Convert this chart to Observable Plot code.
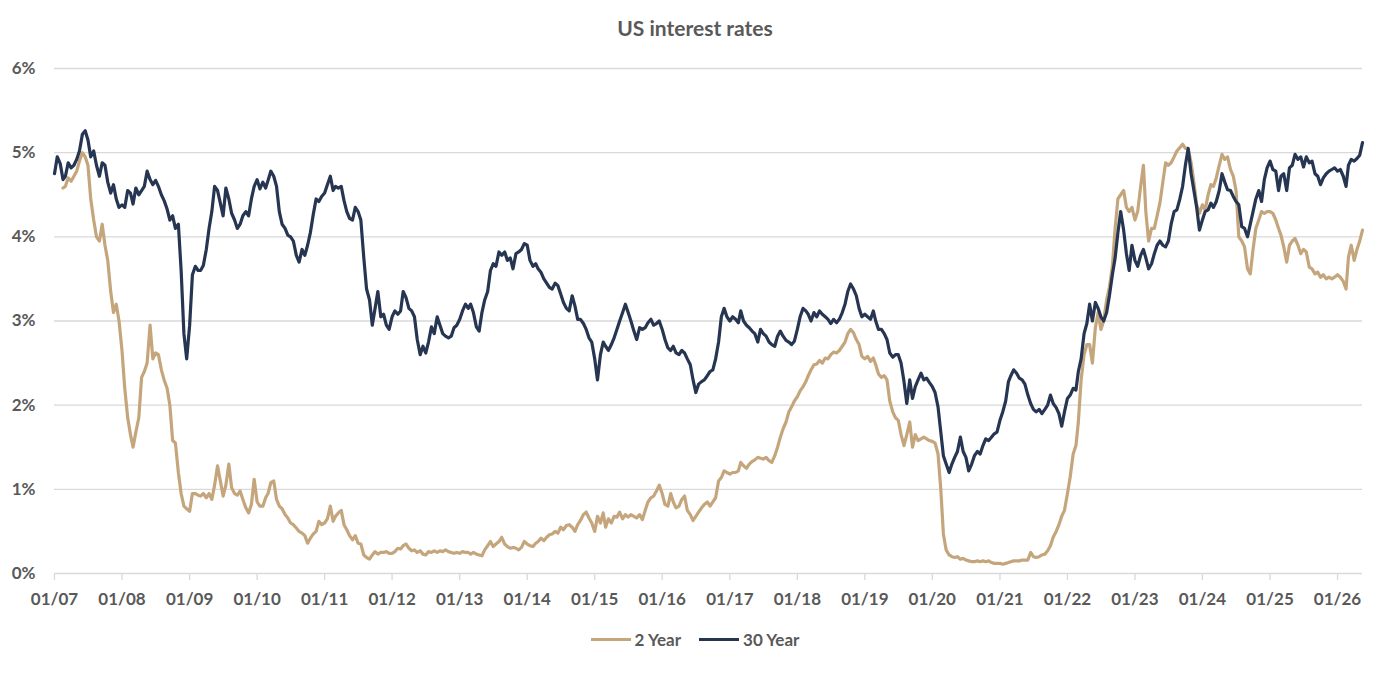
<!DOCTYPE html>
<html>
<head>
<meta charset="utf-8">
<script src="https://cdn.jsdelivr.net/npm/d3@7"></script>
<script src="https://cdn.jsdelivr.net/npm/@observablehq/plot@0.6"></script>
<style>
  html, body { margin: 0; padding: 0; background: #fff; }
  body { width: 1390px; font-family: Lato, "Open Sans", sans-serif; color: #595959; }
  #title { height: 50px; box-sizing: border-box; padding-top: 15px; line-height: 25px;
           text-align: center; font-weight: 700; font-size: 21px; }
  #chart svg { display: block; }
  #legend { height: 38px; display: flex; justify-content: center; align-items: center;
            font-weight: 700; font-size: 17px; }
  .item { display: flex; align-items: center; margin: 0 9px; }
  .swatch { width: 40px; height: 3px; margin-right: 4px; }
</style>
</head>
<body>
<div id="title">US interest rates</div>
<div id="chart"></div>
<div id="legend"></div>
<script>
// Half-monthly yields (1st and 16th of each month), Jan 2007 – mid-May 2026, in percent.
const seriesNames = ["2 Year", "30 Year"];
const seriesColors = ["#C5A67C", "#263551"];

const twoYear = [
  /* 2007 */ null, null, null, 4.58, 4.6, 4.7, 4.66, 4.72, 4.78, 4.9, 5.0, 4.95, 4.85, 4.45, 4.2, 4.0, 3.95, 4.15, 3.9, 3.72, 3.35, 3.1, 3.2, 3.0,
  /* 2008 */ 2.65, 2.2, 1.85, 1.65, 1.5, 1.68, 1.85, 2.33, 2.4, 2.5, 2.95, 2.55, 2.62, 2.6, 2.42, 2.3, 2.2, 2.0, 1.58, 1.55, 1.2, 0.95, 0.8, 0.77,
  /* 2009 */ 0.74, 0.95, 0.95, 0.93, 0.92, 0.95, 0.9, 0.95, 0.88, 1.05, 1.28, 1.1, 0.92, 1.05, 1.3, 1.02, 0.95, 0.93, 0.98, 0.88, 0.78, 0.72, 0.82, 1.12,
  /* 2010 */ 0.85, 0.8, 0.8, 0.9, 0.95, 1.08, 1.1, 0.88, 0.8, 0.77, 0.7, 0.66, 0.6, 0.58, 0.54, 0.5, 0.48, 0.45, 0.36, 0.42, 0.47, 0.5, 0.62, 0.58,
  /* 2011 */ 0.6, 0.65, 0.8, 0.62, 0.68, 0.72, 0.75, 0.58, 0.52, 0.45, 0.4, 0.45, 0.36, 0.35, 0.22, 0.19, 0.17, 0.22, 0.26, 0.23, 0.25, 0.25, 0.26, 0.24,
  /* 2012 */ 0.24, 0.26, 0.3, 0.29, 0.33, 0.35, 0.3, 0.27, 0.28, 0.25, 0.27, 0.23, 0.22, 0.26, 0.25, 0.27, 0.25, 0.27, 0.26, 0.28, 0.26, 0.25, 0.24, 0.25,
  /* 2013 */ 0.24, 0.26, 0.25, 0.25, 0.23, 0.25, 0.23, 0.22, 0.21, 0.28, 0.33, 0.38, 0.32, 0.35, 0.38, 0.43, 0.35, 0.32, 0.3, 0.31, 0.3, 0.28, 0.31, 0.38,
  /* 2014 */ 0.35, 0.33, 0.32, 0.36, 0.38, 0.42, 0.39, 0.43, 0.46, 0.47, 0.5, 0.48, 0.55, 0.52, 0.57, 0.58, 0.55, 0.5, 0.58, 0.63, 0.7, 0.73, 0.66, 0.6,
  /* 2015 */ 0.5, 0.68, 0.6, 0.72, 0.55, 0.65, 0.6, 0.68, 0.67, 0.73, 0.65, 0.7, 0.67, 0.7, 0.68, 0.66, 0.7, 0.64, 0.75, 0.85, 0.9, 0.92, 0.98, 1.05,
  /* 2016 */ 0.95, 0.82, 0.8, 0.95, 0.85, 0.78, 0.8, 0.88, 0.92, 0.75, 0.7, 0.63, 0.68, 0.73, 0.78, 0.82, 0.85, 0.8, 0.85, 0.9, 1.1, 1.14, 1.22, 1.2,
  /* 2017 */ 1.18, 1.2, 1.2, 1.22, 1.32, 1.28, 1.25, 1.3, 1.33, 1.35, 1.38, 1.37, 1.36, 1.38, 1.34, 1.32, 1.4, 1.5, 1.62, 1.72, 1.8, 1.92, 1.98, 2.05,
  /* 2018 */ 2.1, 2.17, 2.22, 2.28, 2.35, 2.42, 2.48, 2.49, 2.53, 2.5, 2.56, 2.55, 2.6, 2.63, 2.62, 2.65, 2.7, 2.75, 2.85, 2.9, 2.86, 2.78, 2.72, 2.58,
  /* 2019 */ 2.55, 2.58, 2.52, 2.56, 2.48, 2.37, 2.33, 2.35, 2.3, 2.05, 1.92, 1.85, 1.82, 1.65, 1.52, 1.65, 1.8, 1.5, 1.65, 1.58, 1.6, 1.62, 1.6, 1.58,
  /* 2020 */ 1.57, 1.55, 1.42, 1.0, 0.47, 0.28, 0.22, 0.2, 0.19, 0.2, 0.17, 0.18, 0.16, 0.15, 0.14, 0.14, 0.15, 0.14, 0.15, 0.14, 0.15, 0.13, 0.12, 0.12,
  /* 2021 */ 0.12, 0.11, 0.12, 0.13, 0.14, 0.15, 0.15, 0.15, 0.16, 0.16, 0.16, 0.25, 0.2, 0.19, 0.2, 0.22, 0.23, 0.27, 0.33, 0.43, 0.5, 0.58, 0.68, 0.75,
  /* 2022 */ 0.95, 1.15, 1.42, 1.52, 1.8, 2.3, 2.6, 2.72, 2.72, 2.5, 2.92, 3.1, 2.9, 3.0, 3.25, 3.4, 3.65, 4.1, 4.45, 4.5, 4.55, 4.35, 4.3, 4.35,
  /* 2023 */ 4.2, 4.3, 4.6, 4.85, 4.3, 3.95, 4.1, 4.1, 4.25, 4.4, 4.65, 4.88, 4.85, 4.88, 4.95, 5.02, 5.06, 5.1, 5.05, 5.05, 4.88, 4.65, 4.38, 4.28,
  /* 2024 */ 4.38, 4.32, 4.5, 4.62, 4.6, 4.7, 4.85, 4.98, 4.92, 4.95, 4.8, 4.72, 4.55, 4.0, 3.95, 3.88, 3.62, 3.56, 3.85, 4.1, 4.2, 4.3, 4.28, 4.3,
  /* 2025 */ 4.3, 4.28, 4.2, 4.1, 4.02, 3.88, 3.7, 3.9, 3.95, 3.98, 3.9, 3.8, 3.85, 3.82, 3.64, 3.62, 3.56, 3.58, 3.52, 3.55, 3.5, 3.52, 3.5, 3.52,
  /* 2026 */ 3.55, 3.52, 3.47, 3.38, 3.76, 3.9, 3.72, 3.85, 3.95, 4.08
];

const thirtyYear = [
  /* 2007 */ 4.75, 4.95, 4.87, 4.68, 4.72, 4.88, 4.82, 4.85, 4.92, 5.02, 5.22, 5.26, 5.15, 4.95, 5.02, 4.85, 4.72, 4.88, 4.85, 4.65, 4.52, 4.62, 4.45, 4.35,
  /* 2008 */ 4.38, 4.35, 4.55, 4.52, 4.39, 4.58, 4.5, 4.55, 4.6, 4.78, 4.68, 4.62, 4.67, 4.6, 4.5, 4.43, 4.33, 4.2, 4.25, 4.1, 4.15, 3.6, 2.85, 2.55,
  /* 2009 */ 2.95, 3.55, 3.65, 3.6, 3.6, 3.66, 3.85, 4.1, 4.3, 4.6, 4.55, 4.4, 4.25, 4.58, 4.45, 4.28, 4.2, 4.1, 4.15, 4.25, 4.3, 4.25, 4.45, 4.6,
  /* 2010 */ 4.68, 4.57, 4.65, 4.58, 4.67, 4.78, 4.72, 4.6, 4.3, 4.15, 4.1, 4.02, 4.0, 3.95, 3.78, 3.7, 3.85, 3.78, 3.9, 4.05, 4.27, 4.45, 4.42, 4.48,
  /* 2011 */ 4.52, 4.62, 4.72, 4.55, 4.6, 4.58, 4.6, 4.43, 4.3, 4.22, 4.2, 4.35, 4.3, 4.2, 3.75, 3.38, 3.25, 2.95, 3.15, 3.35, 3.05, 3.08, 2.95, 2.9,
  /* 2012 */ 3.05, 3.12, 3.08, 3.12, 3.35, 3.28, 3.15, 3.12, 3.05, 2.78, 2.6, 2.7, 2.62, 2.75, 2.93, 2.85, 3.05, 2.95, 2.85, 2.82, 2.8, 2.82, 2.92, 2.95,
  /* 2013 */ 3.02, 3.12, 3.2, 3.15, 3.2, 3.1, 2.93, 2.88, 3.1, 3.25, 3.35, 3.6, 3.68, 3.65, 3.82, 3.78, 3.82, 3.72, 3.75, 3.62, 3.8, 3.82, 3.85, 3.92,
  /* 2014 */ 3.9, 3.72, 3.65, 3.68, 3.62, 3.58, 3.5, 3.45, 3.4, 3.38, 3.45, 3.42, 3.32, 3.22, 3.15, 3.12, 3.3, 3.18, 3.02, 3.02, 2.97, 2.9, 2.8, 2.75,
  /* 2015 */ 2.55, 2.3, 2.6, 2.75, 2.7, 2.65, 2.72, 2.8, 2.9, 3.0, 3.1, 3.2, 3.1, 3.0, 2.88, 2.78, 2.92, 2.9, 2.92, 2.98, 3.02, 2.95, 2.97, 3.0,
  /* 2016 */ 2.9, 2.78, 2.68, 2.65, 2.7, 2.62, 2.6, 2.65, 2.62, 2.55, 2.48, 2.3, 2.15, 2.25, 2.28, 2.3, 2.35, 2.4, 2.42, 2.55, 2.75, 3.05, 3.15, 3.05,
  /* 2017 */ 3.0, 3.05, 3.02, 2.98, 3.12, 3.0, 2.95, 2.92, 2.88, 2.85, 2.75, 2.9, 2.85, 2.82, 2.75, 2.72, 2.7, 2.82, 2.88, 2.82, 2.77, 2.75, 2.72, 2.76,
  /* 2018 */ 2.9, 3.05, 3.15, 3.12, 3.08, 3.0, 3.1, 3.05, 3.12, 3.08, 3.05, 3.02, 2.97, 3.02, 2.98, 3.02, 3.1, 3.2, 3.35, 3.44, 3.38, 3.3, 3.15, 3.05,
  /* 2019 */ 3.08, 3.05, 3.02, 3.12, 3.0, 2.9, 2.9, 2.85, 2.78, 2.62, 2.57, 2.6, 2.6, 2.5, 2.28, 2.02, 2.3, 2.08, 2.22, 2.3, 2.38, 2.3, 2.32, 2.27,
  /* 2020 */ 2.22, 2.15, 1.98, 1.68, 1.4, 1.3, 1.2, 1.3, 1.38, 1.45, 1.62, 1.45, 1.38, 1.22, 1.3, 1.4, 1.45, 1.42, 1.52, 1.6, 1.58, 1.62, 1.66, 1.68,
  /* 2021 */ 1.82, 1.92, 2.05, 2.28, 2.35, 2.42, 2.38, 2.32, 2.3, 2.25, 2.12, 2.02, 1.95, 1.92, 1.95, 1.9, 1.95, 2.0, 2.12, 2.02, 1.97, 1.9, 1.75, 1.92,
  /* 2022 */ 2.08, 2.12, 2.2, 2.18, 2.4, 2.55, 2.85, 2.97, 3.2, 3.0, 3.22, 3.15, 3.05, 3.0, 3.1, 3.3, 3.55, 3.75, 4.05, 4.3, 4.08, 3.8, 3.6, 3.9,
  /* 2023 */ 3.72, 3.65, 3.78, 3.85, 3.75, 3.62, 3.68, 3.8, 3.9, 3.95, 3.9, 3.88, 3.95, 4.15, 4.3, 4.32, 4.45, 4.6, 4.85, 5.05, 4.75, 4.55, 4.35, 4.08,
  /* 2024 */ 4.2, 4.3, 4.32, 4.4, 4.35, 4.42, 4.55, 4.75, 4.65, 4.56, 4.55, 4.48, 4.42, 4.38, 4.12, 4.1, 4.0, 4.15, 4.3, 4.45, 4.55, 4.42, 4.68, 4.82,
  /* 2025 */ 4.9, 4.8, 4.78, 4.55, 4.72, 4.75, 4.55, 4.82, 4.85, 4.98, 4.92, 4.95, 4.83, 4.95, 4.88, 4.9, 4.75, 4.72, 4.62, 4.7, 4.75, 4.78, 4.8, 4.82,
  /* 2026 */ 4.78, 4.8, 4.72, 4.6, 4.85, 4.92, 4.9, 4.93, 4.97, 5.12
];

// Axis ticks: every January from 2007 to 2026, and whole percentages 0–6.
const tickYears = [2007, 2008, 2009, 2010, 2011, 2012, 2013, 2014, 2015, 2016,
                   2017, 2018, 2019, 2020, 2021, 2022, 2023, 2024, 2025, 2026];
const yTicks = [0, 1, 2, 3, 4, 5, 6];

// Observation dates: 1st and 16th of every month.
const dates = twoYear.map((_, i) => new Date(Date.UTC(2007, Math.floor(i / 2), i % 2 ? 16 : 1)));
const rows = (values) => dates.map((date, i) => ({date, rate: values[i]}));

const chart = Plot.plot({
  width: 1390,
  height: 570,
  marginLeft: 54,
  marginRight: 28,
  marginTop: 18,
  marginBottom: 47,
  style: {fontFamily: "Lato, 'Open Sans', sans-serif", fontSize: "17px", fontWeight: "700", color: "#595959", background: "#fff"},
  x: {type: "utc", domain: [new Date(Date.UTC(2007, 0, 1)), dates[dates.length - 1]]},
  y: {domain: [0, 6]},
  marks: [
    Plot.ruleY(yTicks, {stroke: "#d9d9d9", strokeWidth: 1.3}),
    Plot.axisY({ticks: yTicks, tickFormat: d => `${d}%`, tickSize: 0, tickPadding: 19, label: null}),
    Plot.axisX({ticks: tickYears.map(y => new Date(Date.UTC(y, 0, 1))), tickFormat: d3.utcFormat("%m/%y"),
                tickSize: 7, tickPadding: 12, stroke: "#d9d9d9", strokeWidth: 1.3, label: null}),
    Plot.line(rows(twoYear), {x: "date", y: "rate", stroke: seriesColors[0], strokeWidth: 3.2, strokeLinejoin: "round"}),
    Plot.line(rows(thirtyYear), {x: "date", y: "rate", stroke: seriesColors[1], strokeWidth: 3.2, strokeLinejoin: "round"})
  ]
});
document.getElementById("chart").append(chart);

// Legend below the chart
const legend = document.getElementById("legend");
seriesNames.forEach((name, i) => {
  const item = document.createElement("div");
  item.className = "item";
  const sw = document.createElement("span");
  sw.className = "swatch";
  sw.style.background = seriesColors[i];
  const label = document.createElement("span");
  label.textContent = name;
  item.append(sw, label);
  legend.append(item);
});
</script>
</body>
</html>
